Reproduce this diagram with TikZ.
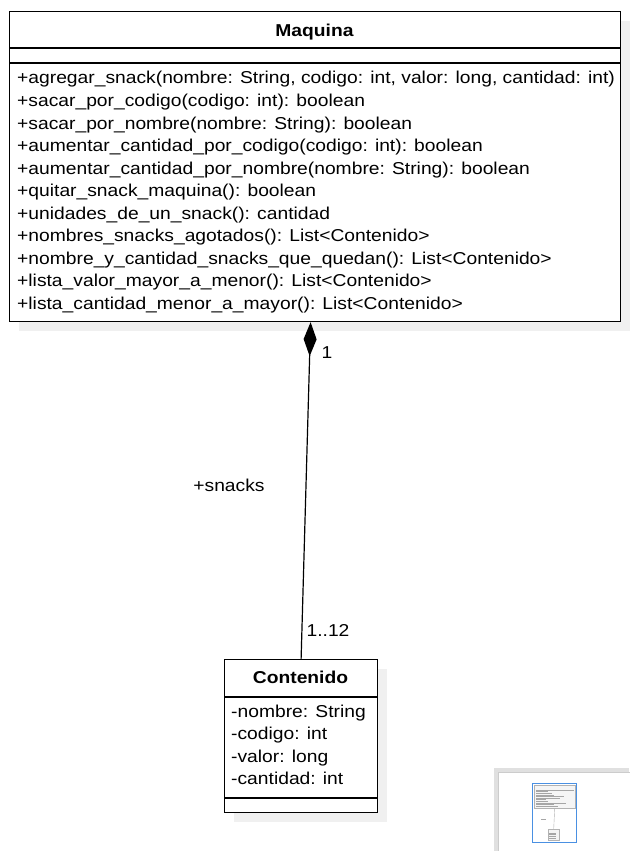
\documentclass[tikz,border=0pt]{standalone}
\usepackage{fontspec}
\setmainfont{Liberation Sans}[FakeStretch=1.12]
\usetikzlibrary{arrows.meta,calc}
\begin{document}
\begin{tikzpicture}[x=1pt,y=-1pt,
  classbox/.style={draw=black,line width=1.2pt,fill=white,anchor=north west,inner sep=0pt},
  shadowbox/.style={fill=black!6,draw=none,anchor=north west,inner sep=0pt},
  member/.style={anchor=base west,inner sep=0pt,font=\fontsize{17.2}{20}\selectfont},
  title/.style={anchor=base,inner sep=0pt,font=\fontsize{17.2}{20}\selectfont\bfseries},
  lbl/.style={anchor=base,inner sep=0pt,font=\fontsize{17.2}{20}\selectfont},
  divider/.style={line width=1.2pt},
  tline/.style={black!35,line width=0.5pt}]
\useasboundingbox (0,0) rectangle (629,851);
% shadows
\node[shadowbox,minimum width=611pt,minimum height=310pt] (maqsh) at (19,21) {};
\node[shadowbox,minimum width=153pt,minimum height=153pt] (contsh) at (234,669) {};
% Maquina
\node[classbox,minimum width=611pt,minimum height=310pt] (maq) at (9,11) {};
\draw[divider] (9,48) -- (620,48);
\draw[divider] (9,63) -- (620,63);
\node[title] (maqt) at (314.5,36.5) {Maquina};
\foreach \t [count=\i from 0] in {
 {+agregar\_snack(nombre: String, codigo: int, valor: long, cantidad: int)},
 {+sacar\_por\_codigo(codigo: int): boolean},
 {+sacar\_por\_nombre(nombre: String): boolean},
 {+aumentar\_cantidad\_por\_codigo(codigo: int): boolean},
 {+aumentar\_cantidad\_por\_nombre(nombre: String): boolean},
 {+quitar\_snack\_maquina(): boolean},
 {+unidades\_de\_un\_snack(): cantidad},
 {+nombres\_snacks\_agotados(): List<Contenido>},
 {+nombre\_y\_cantidad\_snacks\_que\_quedan(): List<Contenido>},
 {+lista\_valor\_mayor\_a\_menor(): List<Contenido>},
 {+lista\_cantidad\_menor\_a\_mayor(): List<Contenido>}}
 \node[member] (m\i) at (17,84+22.5*\i) {\t};
% Contenido
\node[classbox,minimum width=153pt,minimum height=153pt] (cont) at (224,659) {};
\draw[divider] (224,697) -- (377,697);
\draw[divider] (224,798) -- (377,798);
\node[title] (contt) at (300.5,683.5) {Contenido};
\foreach \t [count=\i from 0] in {
 {-nombre: String},{-codigo: int},{-valor: long},{-cantidad: int}}
 \node[member] (a\i) at (231,717+22.5*\i) {\t};
% association
\draw[line width=1.2pt,{Diamond[length=34pt,width=13pt,fill=black]}-] ([xshift=-4.5pt]maq.south) -- (cont.north);
\node[lbl] (l1) at (327,358.5) {1};
\node[lbl] (lsn) at (229,491.5) {+snacks};
\node[lbl] (l12) at (328,636.5) {1..12};
% outline thumbnail
\fill[black!12] (494,768) rectangle (629,851);
\node[draw=black!20,fill=white,anchor=north west,minimum width=140pt,minimum height=90pt,inner sep=0pt] (thumb) at (498,772) {};
\node[draw=black!30,fill=black!4,anchor=north west,minimum width=41pt,minimum height=23pt,inner sep=0pt,line width=0.4pt] (tm) at (534,785) {};
\node[draw=black!30,fill=black!4,anchor=north west,minimum width=11pt,minimum height=11pt,inner sep=0pt,line width=0.4pt] (tc) at (548,829) {};
\foreach \y/\w in {790/38,791.6/12,793.2/16,794.8/18,796.4/28,798/24,799.6/10,801.2/12,802.8/30,804.4/18,806/22}
  \draw[tline] (536,\y) -- ++(\w,0);
\foreach \y in {833,834.6,836.2,837.8} \draw[tline] (549,\y) -- ++(7,0);
\draw[black!30,line width=0.4pt] (tm.south) -- (tc.north);
\draw[tline] (541,819) -- (546,819);
\node[draw={rgb,255:red,74;green,144;blue,226},line width=1pt,anchor=north west,minimum width=44pt,minimum height=59pt,inner sep=0pt] (view) at (532,783) {};
\end{tikzpicture}
\end{document}
